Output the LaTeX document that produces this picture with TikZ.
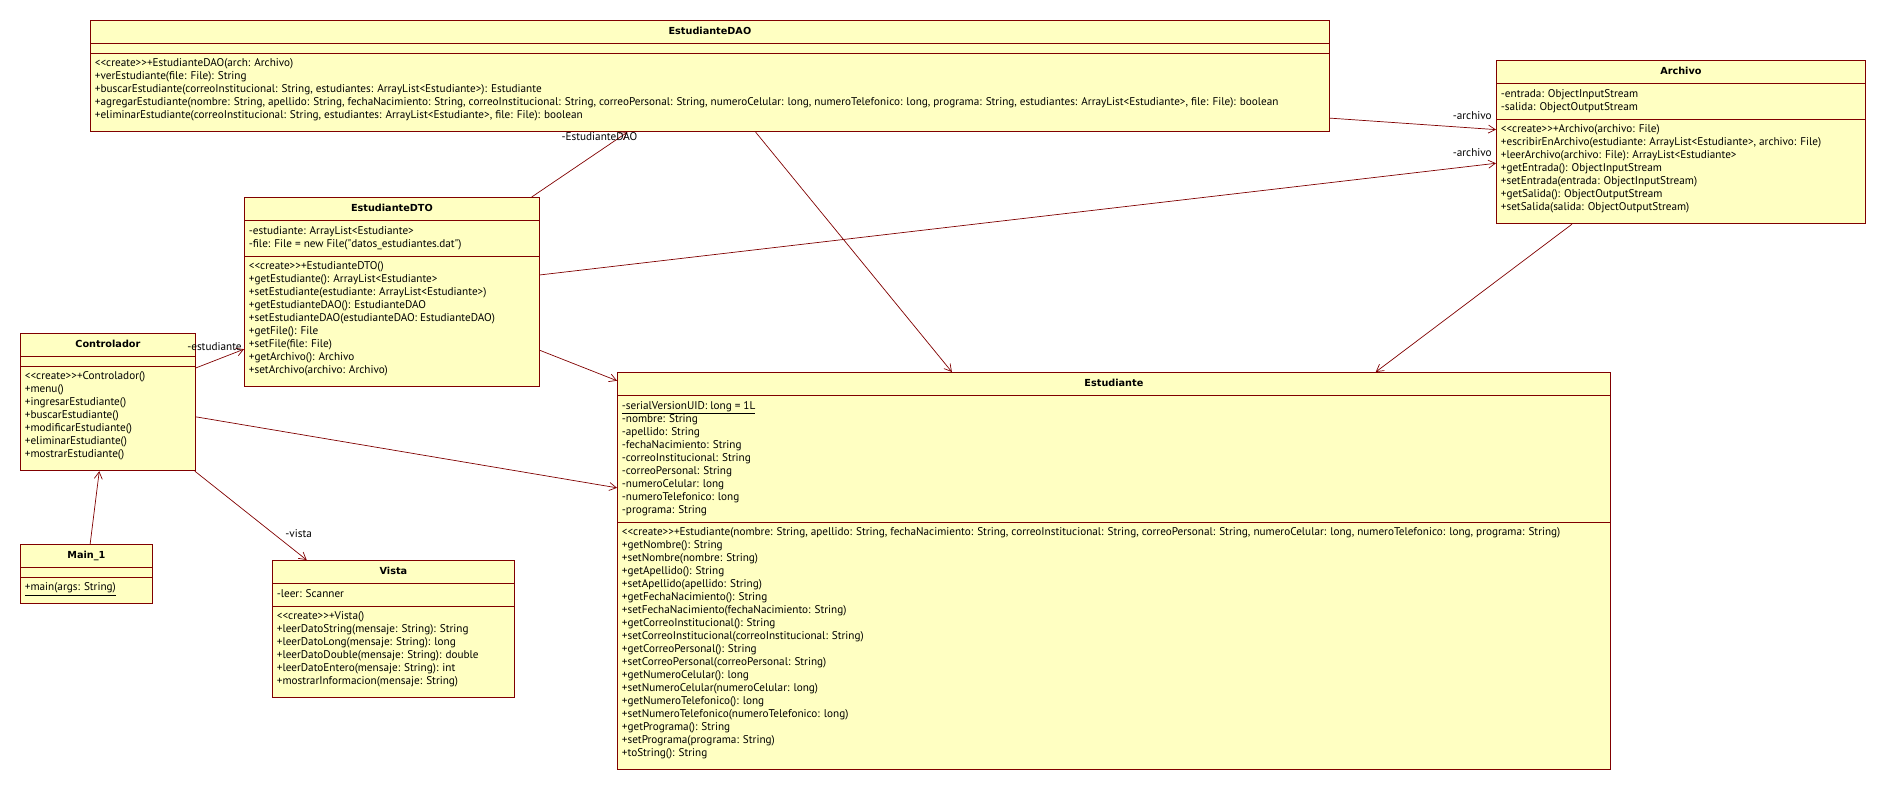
\documentclass[tikz,border=0pt]{standalone}
\usepackage{fontspec}
\setmainfont{PT Sans}[Ligatures=TeXOff]
\newfontfamily\titlefont{DejaVu Sans}
\usetikzlibrary{arrows.meta,positioning,shapes.multipart}
\definecolor{umlline}{RGB}{128,0,0}
\definecolor{umlfill}{RGB}{255,255,194}
\newcommand{\umlfont}{\fontsize{11.2}{13}\selectfont}
\newcommand{\umltitle}[1]{\rule[-3.5pt]{0pt}{13pt}{\titlefont\bfseries\fontsize{9.7}{13}\selectfont #1}}
\newcommand{\umltop}{\rule{0pt}{9pt}}
\newcommand{\umlnone}{\rule{1pt}{0pt}}
\newcommand{\attrend}{\rule[-4pt]{0pt}{4pt}}
\newcommand{\opsend}{\rule[-8pt]{0pt}{8pt}}

\begin{document}
\begin{tikzpicture}[x=1pt, y=-1pt,
  umlclass/.style={rectangle split, rectangle split parts=3,
    draw=umlline, fill=umlfill, line width=0.8pt, anchor=north west,
    inner xsep=4.5pt, inner ysep=4.5pt, align=left,
    rectangle split part align={center,left,left}, font=\umlfont},
  arr/.style={-{Straight Barb[length=7pt,width=8pt]}, umlline, line width=0.7pt},
  lbl/.style={font=\umlfont, text=black, inner sep=1pt},
]
\useasboundingbox (0,0) rectangle (1886,788);

\node[umlclass, minimum width=1239pt] (dao) at (90,20)
  {\umltitle{EstudianteDAO}
   \nodepart{second}\umlnone
   \nodepart{third}
   \umltop<<create>>+EstudianteDAO(arch: Archivo)\\
   +verEstudiante(file: File): String\\
   +buscarEstudiante(correoInstitucional: String, estudiantes: ArrayList<Estudiante>): Estudiante\\
   +agregarEstudiante(nombre: String, apellido: String, fechaNacimiento: String, correoInstitucional: String, correoPersonal: String, numeroCelular: long, numeroTelefonico: long, programa: String, estudiantes: ArrayList<Estudiante>, file: File): boolean\\
   +eliminarEstudiante(correoInstitucional: String, estudiantes: ArrayList<Estudiante>, file: File): boolean\opsend};

\node[umlclass, minimum width=369pt] (archivo) at (1496,60)
  {\umltitle{Archivo}
   \nodepart{second}
   \umltop-entrada: ObjectInputStream\\
   -salida: ObjectOutputStream\attrend
   \nodepart{third}
   \umltop<<create>>+Archivo(archivo: File)\\
   +escribirEnArchivo(estudiante: ArrayList<Estudiante>, archivo: File)\\
   +leerArchivo(archivo: File): ArrayList<Estudiante>\\
   +getEntrada(): ObjectInputStream\\
   +setEntrada(entrada: ObjectInputStream)\\
   +getSalida(): ObjectOutputStream\\
   +setSalida(salida: ObjectOutputStream)\opsend};

\node[umlclass, minimum width=295pt] (dto) at (244,197)
  {\umltitle{EstudianteDTO}
   \nodepart{second}
   \umltop-estudiante: ArrayList<Estudiante>\\
   -file: File = new File("datos\_estudiantes.dat")\attrend
   \nodepart{third}
   \umltop<<create>>+EstudianteDTO()\\
   +getEstudiante(): ArrayList<Estudiante>\\
   +setEstudiante(estudiante: ArrayList<Estudiante>)\\
   +getEstudianteDAO(): EstudianteDAO\\
   +setEstudianteDAO(estudianteDAO: EstudianteDAO)\\
   +getFile(): File\\
   +setFile(file: File)\\
   +getArchivo(): Archivo\\
   +setArchivo(archivo: Archivo)\opsend};

\node[umlclass, minimum width=175pt] (controlador) at (20,333)
  {\umltitle{Controlador}
   \nodepart{second}\umlnone
   \nodepart{third}
   \umltop<<create>>+Controlador()\\
   +menu()\\
   +ingresarEstudiante()\\
   +buscarEstudiante()\\
   +modificarEstudiante()\\
   +eliminarEstudiante()\\
   +mostrarEstudiante()\opsend};

\node[umlclass, minimum width=132pt] (main) at (20,544)
  {\umltitle{Main\_1}
   \nodepart{second}\umlnone
   \nodepart{third}
   \umltop\underline{+main(args: String)}\opsend};

\node[umlclass, minimum width=242pt] (vista) at (272,560)
  {\umltitle{Vista}
   \nodepart{second}
   \umltop-leer: Scanner\attrend
   \nodepart{third}
   \umltop<<create>>+Vista()\\
   +leerDatoString(mensaje: String): String\\
   +leerDatoLong(mensaje: String): long\\
   +leerDatoDouble(mensaje: String): double\\
   +leerDatoEntero(mensaje: String): int\\
   +mostrarInformacion(mensaje: String)\opsend};

\node[umlclass, minimum width=993pt] (estudiante) at (617,372)
  {\umltitle{Estudiante}
   \nodepart{second}
   \umltop\underline{-serialVersionUID: long = 1L}\\
   -nombre: String\\
   -apellido: String\\
   -fechaNacimiento: String\\
   -correoInstitucional: String\\
   -correoPersonal: String\\
   -numeroCelular: long\\
   -numeroTelefonico: long\\
   -programa: String\attrend
   \nodepart{third}
   \umltop<<create>>+Estudiante(nombre: String, apellido: String, fechaNacimiento: String, correoInstitucional: String, correoPersonal: String, numeroCelular: long, numeroTelefonico: long, programa: String)\\
   +getNombre(): String\\
   +setNombre(nombre: String)\\
   +getApellido(): String\\
   +setApellido(apellido: String)\\
   +getFechaNacimiento(): String\\
   +setFechaNacimiento(fechaNacimiento: String)\\
   +getCorreoInstitucional(): String\\
   +setCorreoInstitucional(correoInstitucional: String)\\
   +getCorreoPersonal(): String\\
   +setCorreoPersonal(correoPersonal: String)\\
   +getNumeroCelular(): long\\
   +setNumeroCelular(numeroCelular: long)\\
   +getNumeroTelefonico(): long\\
   +setNumeroTelefonico(numeroTelefonico: long)\\
   +getPrograma(): String\\
   +setPrograma(programa: String)\\
   +toString(): String\opsend};

\draw[arr] (dao) -- (archivo)
  node[lbl, pos=1, anchor=south east, xshift=-3pt, yshift=9pt] {-archivo};
\draw[arr] (dto) -- (archivo)
  node[lbl, pos=1, anchor=south east, xshift=-3pt, yshift=5pt] {-archivo};
\draw[arr] (dto) -- (dao)
  node[lbl, pos=1, anchor=north, xshift=-28pt, yshift=1pt] {-EstudianteDAO};
\draw[arr] (dao) -- (estudiante);
\draw[arr] (archivo) -- (estudiante);
\draw[arr] (dto) -- (estudiante);
\draw[arr] (controlador) -- (dto)
  node[lbl, pos=1, anchor=east, xshift=-1pt, yshift=3pt] {-estudiante};
\draw[arr] (controlador) -- (estudiante);
\draw[arr] (controlador) -- (vista)
  node[lbl, pos=1, xshift=-8pt, yshift=26pt] {-vista};
\draw[arr] (main) -- (controlador);
\end{tikzpicture}
\end{document}
